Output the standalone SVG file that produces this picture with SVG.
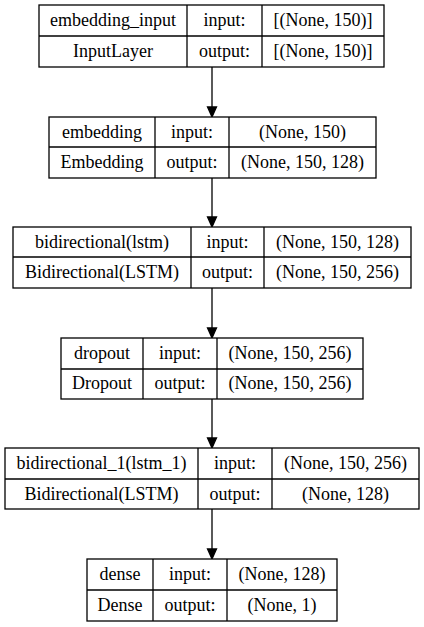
<svg xmlns="http://www.w3.org/2000/svg" width="424" height="627" viewBox="0 0 424 627">
<style>
rect.b{fill:#fff;stroke:#000;stroke-width:1.3}
line.d{stroke:#000;stroke-width:1.3}
text{font-family:'Liberation Serif','Times New Roman',serif;font-size:18px;fill:#000;text-anchor:middle}
.e line{stroke:#000;stroke-width:1.3}
.e polygon{fill:#000;stroke:#000;stroke-width:1.3}
</style>
<rect width="424" height="627" fill="#fff"/>
<g class="e" id="connectors">
<line x1="212" y1="67" x2="212" y2="107"/><polygon points="207.5,107 216.5,107 212,117"/>
<line x1="212" y1="178" x2="212" y2="217"/><polygon points="207.5,217 216.5,217 212,227"/>
<line x1="212" y1="288" x2="212" y2="328"/><polygon points="207.5,328 216.5,328 212,338"/>
<line x1="212" y1="399" x2="212" y2="438"/><polygon points="207.5,438 216.5,438 212,448"/>
<line x1="212" y1="509" x2="212" y2="549"/><polygon points="207.5,549 216.5,549 212,559"/>
</g>
<g id="embedding_input">
<rect class="b" x="39" y="5" width="345" height="62"/>
<line class="d" x1="39" y1="36" x2="384" y2="36"/>
<line class="d" x1="187" y1="5" x2="187" y2="67"/>
<line class="d" x1="262" y1="5" x2="262" y2="67"/>
<text x="113" y="26">embedding_input</text>
<text x="224.5" y="26">input:</text>
<text x="323" y="26">[(None, 150)]</text>
<text x="113" y="57">InputLayer</text>
<text x="224.5" y="57">output:</text>
<text x="323" y="57">[(None, 150)]</text>
</g>
<g id="embedding">
<rect class="b" x="49" y="117" width="327" height="61"/>
<line class="d" x1="49" y1="147" x2="376" y2="147"/>
<line class="d" x1="155" y1="117" x2="155" y2="178"/>
<line class="d" x1="229" y1="117" x2="229" y2="178"/>
<text x="102" y="138">embedding</text>
<text x="192" y="138">input:</text>
<text x="302.5" y="138">(None, 150)</text>
<text x="102" y="168">Embedding</text>
<text x="192" y="168">output:</text>
<text x="302.5" y="168">(None, 150, 128)</text>
</g>
<g id="bidirectional">
<rect class="b" x="13" y="227" width="398" height="61"/>
<line class="d" x1="13" y1="257" x2="411" y2="257"/>
<line class="d" x1="191" y1="227" x2="191" y2="288"/>
<line class="d" x1="264" y1="227" x2="264" y2="288"/>
<text x="102" y="248">bidirectional(lstm)</text>
<text x="227.5" y="248">input:</text>
<text x="337.5" y="248">(None, 150, 128)</text>
<text x="102" y="278">Bidirectional(LSTM)</text>
<text x="227.5" y="278">output:</text>
<text x="337.5" y="278">(None, 150, 256)</text>
</g>
<g id="dropout">
<rect class="b" x="61" y="338" width="302" height="61"/>
<line class="d" x1="61" y1="369" x2="363" y2="369"/>
<line class="d" x1="143" y1="338" x2="143" y2="399"/>
<line class="d" x1="217" y1="338" x2="217" y2="399"/>
<text x="102" y="359">dropout</text>
<text x="180" y="359">input:</text>
<text x="290" y="359">(None, 150, 256)</text>
<text x="102" y="389">Dropout</text>
<text x="180" y="389">output:</text>
<text x="290" y="389">(None, 150, 256)</text>
</g>
<g id="bidirectional_1">
<rect class="b" x="5" y="448" width="414" height="61"/>
<line class="d" x1="5" y1="479" x2="419" y2="479"/>
<line class="d" x1="198" y1="448" x2="198" y2="509"/>
<line class="d" x1="272" y1="448" x2="272" y2="509"/>
<text x="101.5" y="469">bidirectional_1(lstm_1)</text>
<text x="235" y="469">input:</text>
<text x="345.5" y="469">(None, 150, 256)</text>
<text x="101.5" y="500">Bidirectional(LSTM)</text>
<text x="235" y="500">output:</text>
<text x="345.5" y="500">(None, 128)</text>
</g>
<g id="dense">
<rect class="b" x="87" y="559" width="250" height="62"/>
<line class="d" x1="87" y1="590" x2="337" y2="590"/>
<line class="d" x1="153" y1="559" x2="153" y2="621"/>
<line class="d" x1="227" y1="559" x2="227" y2="621"/>
<text x="120" y="580">dense</text>
<text x="190" y="580">input:</text>
<text x="282" y="580">(None, 128)</text>
<text x="120" y="611">Dense</text>
<text x="190" y="611">output:</text>
<text x="282" y="611">(None, 1)</text>
</g>
</svg>
